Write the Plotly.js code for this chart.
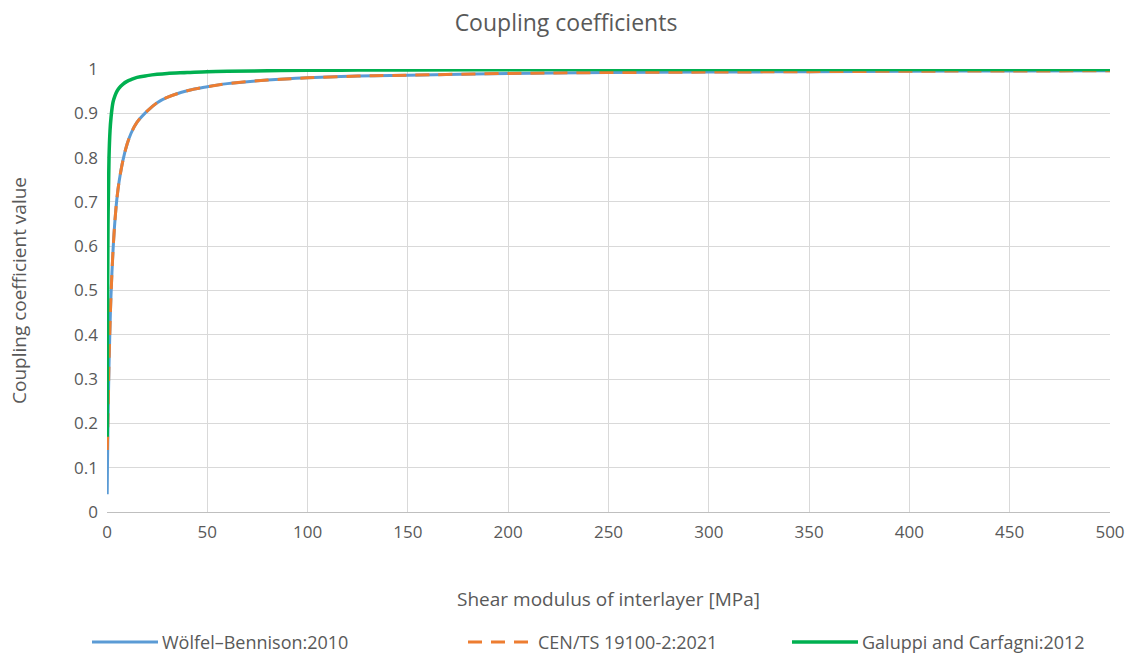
<!DOCTYPE html>
<html>
<head>
<meta charset="utf-8">
<script src="https://cdn.plot.ly/plotly-3.0.1.min.js"></script>
<style>html,body{margin:0;padding:0;background:#fff;}#chart{width:1132px;height:657px;}</style>
</head>
<body>
<div id="chart"></div>
<script>
const shearModulus = [0.1, 0.25, 0.5, 1, 1.5, 2, 3, 4, 5, 6, 8, 10, 12, 15, 20, 25, 30, 40, 50, 60, 80, 100, 125, 150, 200, 250, 300, 350, 400, 450, 500];
const woelfelBennison = [0.04, 0.11, 0.2, 0.33, 0.42, 0.49, 0.59, 0.66, 0.71, 0.745, 0.795, 0.83, 0.855, 0.88, 0.905, 0.924, 0.936, 0.951, 0.96, 0.967, 0.975, 0.98, 0.984, 0.986, 0.99, 0.992, 0.993, 0.994, 0.995, 0.9955, 0.996];
const cenTs = [0.14, 0.16, 0.22, 0.34, 0.42, 0.49, 0.59, 0.66, 0.71, 0.745, 0.795, 0.83, 0.855, 0.88, 0.905, 0.924, 0.936, 0.951, 0.96, 0.967, 0.975, 0.98, 0.984, 0.986, 0.99, 0.992, 0.993, 0.994, 0.995, 0.9955, 0.996];
const galuppiCarfagni = [0.17, 0.45, 0.65, 0.8, 0.86, 0.89, 0.925, 0.94, 0.95, 0.957, 0.966, 0.972, 0.976, 0.981, 0.985, 0.988, 0.99, 0.992, 0.994, 0.995, 0.996, 0.997, 0.9975, 0.998, 0.9985, 0.999, 0.999, 0.999, 0.999, 0.999, 0.999];
const seriesNames = ["Wölfel–Bennison:2010", "CEN/TS 19100-2:2021", "Galuppi and Carfagni:2012"];
const seriesColors = ["#5b9bd5", "#ed7d31", "#00b050"];
const seriesDash = ["solid", "14px,9px", "solid"];
const seriesWidth = [3, 3, 3.5];

const font = "Open Sans, Noto Sans, sans-serif";
const grey = "#595959";
const seriesValues = [woelfelBennison, cenTs, galuppiCarfagni];
const traces = seriesValues.map((vals, i) => ({
  x: shearModulus, y: vals, name: seriesNames[i], mode: "lines",
  line: {color: seriesColors[i], width: seriesWidth[i], dash: seriesDash[i], shape: "spline"}
}));

// Manual legend (Excel style) below the plot
const W = 1132, H = 657, mL = 107, mR = 22, mT = 69, mB = 145;
const pw = W - mL - mR, ph = H - mT - mB;
const px = p => (p - mL) / pw;
const py = p => (H - mB - p) / ph;
const legendStarts = [92, 468, 792];
const legendY = 642;
const shapes = [], annotations = [];
legendStarts.forEach((s, i) => {
  shapes.push({type: "line", xref: "paper", yref: "paper", x0: px(s), x1: px(s + 66), y0: py(legendY), y1: py(legendY),
    line: {color: seriesColors[i], width: seriesWidth[i], dash: seriesDash[i]}});
  annotations.push({xref: "paper", yref: "paper", x: px(s + 68), y: py(legendY), xanchor: "left", yanchor: "middle",
    text: seriesNames[i], showarrow: false, font: {size: 18, color: grey, family: font}});
});

const layout = {
  width: W, height: H,
  margin: {l: mL, r: mR, t: mT, b: mB},
  paper_bgcolor: "#fff", plot_bgcolor: "#fff",
  font: {family: font, color: grey, size: 16},
  title: {text: "Coupling coefficients", font: {size: 23, color: grey, family: font}, x: 0.5, xanchor: "center", y: 0.965, yanchor: "middle"},
  xaxis: {
    range: [0, 500], dtick: 50, tick0: 0, showgrid: true, gridcolor: "#d9d9d9", gridwidth: 1,
    showline: true, linecolor: "#bfbfbf", linewidth: 1, zeroline: false, ticks: "", ticklen: 0,
    ticklabelstandoff: 5,
    tickfont: {size: 17, color: grey},
    title: {text: "Shear modulus of interlayer [MPa]", font: {size: 19, color: grey}, standoff: 50}
  },
  yaxis: {
    range: [0, 1], dtick: 0.1, tick0: 0, showgrid: true, gridcolor: "#d9d9d9", gridwidth: 1,
    showline: false, zeroline: false, ticks: "", tickfont: {size: 17, color: grey},
    ticklabelstandoff: 8,
    title: {text: "Coupling coefficient value", font: {size: 19, color: grey}, standoff: 42}
  },
  showlegend: false,
  shapes: shapes,
  annotations: annotations
};
Plotly.newPlot("chart", traces, layout, {displayModeBar: false, staticPlot: true});
</script>
</body>
</html>
